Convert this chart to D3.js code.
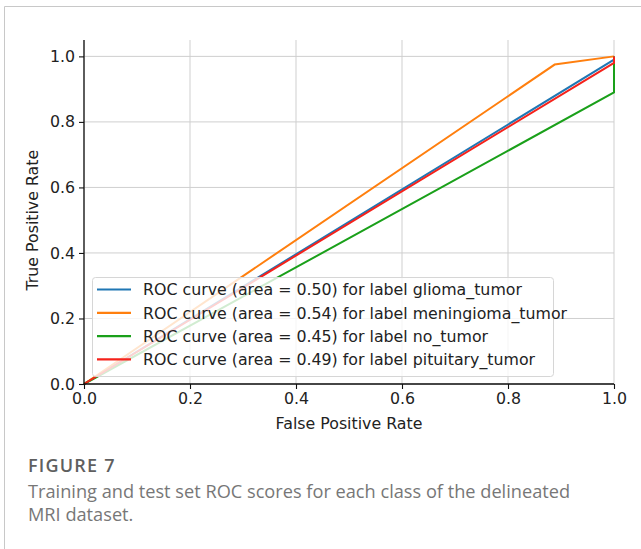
<!DOCTYPE html>
<html>
<head>
<meta charset="utf-8">
<script src="https://cdn.jsdelivr.net/npm/d3@7"></script>
<style>
  html, body { margin: 0; padding: 0; background: #fff; }
  svg { display: block; }
  .plotfont { font-family: "DejaVu Sans", "Noto Sans", sans-serif; }
</style>
</head>
<body>
<svg id="chart" width="641" height="549"></svg>
<script>
// ROC curve points (false positive rate, true positive rate) per class
const seriesNames = ["glioma_tumor", "meningioma_tumor", "no_tumor", "pituitary_tumor"];
const seriesAreas = ["0.50", "0.54", "0.45", "0.49"];
const seriesColors = ["#1f77b4", "#ff7f0e", "#1aa01a", "#f5221b"];
const fprValues = [
  [0, 1, 1],
  [0, 0.888, 1],
  [0, 1, 1],
  [0, 1, 1]
];
const tprValues = [
  [0, 0.99, 1],
  [0, 0.975, 1],
  [0, 0.89, 1],
  [0, 0.98, 1]
];
const xTicks = [0, 0.2, 0.4, 0.6, 0.8, 1.0];
const yTicks = [0, 0.2, 0.4, 0.6, 0.8, 1.0];

const svg = d3.select("#chart");
const fs = 15.8;

// outer figure frame (top and left edges visible)
svg.append("path")
  .attr("d", "M4.5,549 L4.5,6.5 L641,6.5")
  .attr("fill", "none")
  .attr("stroke", "#c8c8c8")
  .attr("stroke-width", 1);

const plotLeft = 84, plotRight = 614, plotTop = 40, plotBottom = 384;
const x = d3.scaleLinear().domain([0, 1]).range([plotLeft, plotRight]);
const y = d3.scaleLinear().domain([0, 1.05]).range([plotBottom, plotTop]);

// grid
const grid = svg.append("g");
grid.selectAll("line.v").data(xTicks).join("line")
  .attr("class", "v")
  .attr("x1", d => x(d)).attr("x2", d => x(d))
  .attr("y1", plotTop).attr("y2", plotBottom)
  .attr("stroke", "#cfcfcf").attr("stroke-width", 1);
grid.selectAll("line.h").data(yTicks).join("line")
  .attr("class", "h")
  .attr("x1", plotLeft).attr("x2", plotRight)
  .attr("y1", d => y(d)).attr("y2", d => y(d))
  .attr("stroke", "#cfcfcf").attr("stroke-width", 1);

// curves
const line = d3.line().x(d => x(d[0])).y(d => y(d[1]));
seriesNames.forEach((name, i) => {
  const pts = fprValues[i].map((f, j) => [f, tprValues[i][j]]);
  svg.append("path")
    .datum(pts)
    .attr("d", line)
    .attr("fill", "none")
    .attr("stroke", seriesColors[i])
    .attr("stroke-width", 2);
});

// axes
const xAxis = svg.append("g")
  .attr("transform", `translate(0,${plotBottom})`)
  .call(d3.axisBottom(x).tickValues(xTicks).tickFormat(d3.format(".1f")).tickSize(5).tickPadding(4));
const yAxis = svg.append("g")
  .attr("transform", `translate(${plotLeft},0)`)
  .call(d3.axisLeft(y).tickValues(yTicks).tickFormat(d3.format(".1f")).tickSize(5).tickPadding(4));
[xAxis, yAxis].forEach(a => {
  a.attr("font-family", null);
  a.select(".domain").attr("stroke", "#111").attr("stroke-width", 1.3);
  a.selectAll(".tick line").attr("stroke", "#111").attr("stroke-width", 1.1);
  a.selectAll(".tick text").attr("class", "plotfont").attr("font-size", fs).attr("fill", "#222");
});
xAxis.select(".domain").attr("d", `M${plotLeft},0H${plotRight}`);
yAxis.select(".domain").attr("d", `M0,${plotBottom}V${plotTop}`);

// axis titles
svg.append("text")
  .attr("class", "plotfont")
  .attr("x", x(0.5)).attr("y", 429)
  .attr("text-anchor", "middle")
  .attr("font-size", fs).attr("fill", "#222")
  .text("False Positive Rate");
svg.append("text")
  .attr("class", "plotfont")
  .attr("transform", `translate(38,${y(0.5)}) rotate(-90)`)
  .attr("text-anchor", "middle")
  .attr("font-size", fs).attr("fill", "#222")
  .text("True Positive Rate");

// legend
const legend = svg.append("g");
legend.append("rect")
  .attr("x", 92.5).attr("y", 277.5).attr("width", 461).attr("height", 99).attr("rx", 3)
  .attr("fill", "rgba(255,255,255,0.8)").attr("stroke", "#d6d6d6");
seriesNames.forEach((name, i) => {
  const ly = 289.5 + i * 23.3;
  legend.append("line")
    .attr("x1", 97).attr("x2", 131).attr("y1", ly).attr("y2", ly)
    .attr("stroke", seriesColors[i]).attr("stroke-width", 2.2);
  legend.append("text")
    .attr("class", "plotfont")
    .attr("x", 143).attr("y", ly + 5.8)
    .attr("font-size", fs).attr("fill", "#222")
    .text(`ROC curve (area = ${seriesAreas[i]}) for label ${name}`);
});

// caption
svg.append("text")
  .attr("x", 28).attr("y", 472)
  .attr("font-family", "'Open Sans', sans-serif").attr("font-size", 18).attr("font-weight", 600)
  .attr("letter-spacing", 1.2)
  .attr("fill", "#5f5f5f")
  .text("FIGURE 7");
svg.append("text")
  .attr("x", 28).attr("y", 498)
  .attr("font-family", "'Open Sans', sans-serif").attr("font-size", 18.2)
  .attr("fill", "#777")
  .text("Training and test set ROC scores for each class of the delineated");
svg.append("text")
  .attr("x", 28).attr("y", 521)
  .attr("font-family", "'Open Sans', sans-serif").attr("font-size", 18.2)
  .attr("fill", "#777")
  .text("MRI dataset.");
</script>
</body>
</html>
